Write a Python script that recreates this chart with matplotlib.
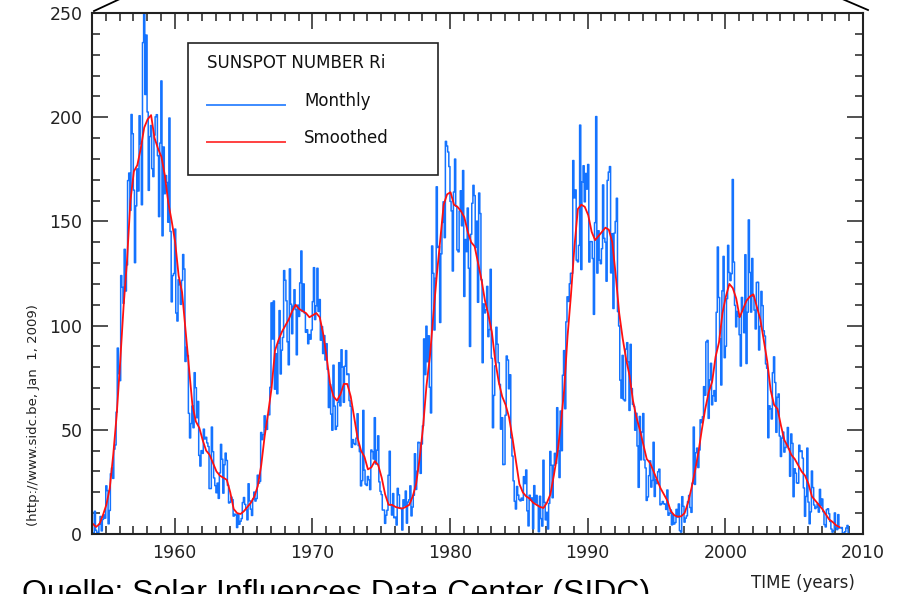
import numpy as np
import matplotlib
matplotlib.use('Agg')
import matplotlib.pyplot as plt
from matplotlib.lines import Line2D

# Monatliche Sonnenfleckenzahlen (Ri), eine Zeile pro Jahr, Jan..Dez
monthly_start = 1954
monthly = [
    [0.2, 0.5, 10.9, 1.8, 0.8, 0.2, 4.8, 8.4, 1.5, 7.0, 9.2, 7.6],            # 1954
    [23.1, 20.8, 4.9, 11.3, 28.9, 31.7, 26.7, 40.7, 42.7, 58.5, 89.2, 76.9],  # 1955
    [73.6, 124.0, 118.4, 110.7, 136.6, 116.6, 129.1, 169.6, 173.2, 155.3, 201.3, 192.1],
    [165.0, 130.2, 157.4, 175.2, 164.6, 200.7, 187.2, 158.0, 235.8, 253.8, 210.9, 239.4],
    [202.5, 164.9, 190.7, 196.0, 175.3, 171.5, 191.4, 200.2, 201.2, 181.5, 152.3, 187.6],
    [217.4, 143.1, 185.7, 163.3, 172.0, 168.7, 149.6, 199.6, 145.2, 111.4, 124.0, 125.0],
    [146.3, 106.0, 102.2, 122.0, 119.6, 110.2, 121.7, 134.1, 127.2, 82.8, 89.6, 85.6],    # 1960
    [57.9, 46.1, 53.0, 61.4, 51.0, 77.4, 70.2, 55.8, 63.6, 37.7, 32.6, 40.0],
    [38.7, 50.3, 45.6, 46.4, 43.7, 42.0, 21.8, 21.8, 51.3, 39.5, 26.9, 23.2],
    [19.8, 24.4, 17.1, 29.3, 43.0, 35.9, 19.6, 33.2, 38.8, 35.3, 23.4, 14.9],
    [15.3, 17.7, 16.5, 8.6, 9.5, 9.1, 3.1, 9.3, 4.7, 6.1, 7.4, 15.1],
    [17.5, 14.2, 11.7, 6.8, 24.1, 15.9, 11.9, 8.9, 16.8, 20.1, 15.8, 17.0],
    [28.2, 24.4, 25.3, 48.7, 45.3, 47.7, 56.7, 51.2, 50.2, 57.2, 57.2, 70.4],
    [110.9, 93.6, 111.8, 69.5, 86.5, 67.3, 91.5, 107.2, 76.8, 88.2, 94.3, 126.4],
    [121.8, 111.9, 92.2, 81.2, 127.2, 110.3, 96.1, 109.3, 117.2, 107.7, 86.0, 109.8],
    [104.4, 120.5, 135.8, 106.8, 120.0, 106.0, 96.8, 98.0, 91.3, 95.7, 93.5, 97.9],
    [111.5, 127.8, 102.9, 109.5, 127.5, 106.8, 112.5, 93.0, 99.5, 86.6, 95.2, 83.5],      # 1970
    [91.3, 79.0, 60.7, 71.8, 57.5, 49.8, 81.0, 61.4, 50.2, 51.7, 63.2, 82.2],
    [61.5, 88.4, 80.1, 63.2, 80.5, 88.0, 76.5, 76.8, 64.0, 61.3, 41.6, 45.3],
    [43.4, 42.9, 46.0, 57.7, 42.4, 39.5, 23.1, 25.6, 59.3, 30.7, 23.9, 23.3],
    [27.6, 26.0, 21.3, 40.3, 39.5, 36.0, 55.8, 33.6, 40.2, 47.1, 25.0, 20.5],
    [18.9, 11.5, 11.5, 5.1, 9.0, 11.4, 28.2, 39.7, 13.9, 9.1, 19.4, 7.8],
    [8.1, 4.3, 21.9, 18.8, 12.4, 12.2, 1.9, 16.4, 13.5, 20.6, 5.2, 15.3],
    [16.4, 23.1, 8.7, 12.9, 18.6, 38.5, 21.4, 30.1, 44.0, 43.8, 29.1, 43.2],
    [51.9, 93.6, 76.5, 99.7, 82.7, 95.1, 70.4, 58.1, 138.2, 125.1, 97.9, 122.7],
    [166.6, 137.5, 138.0, 101.5, 134.4, 149.5, 159.4, 142.2, 188.4, 186.2, 183.3, 176.3],
    [159.6, 155.0, 126.2, 164.1, 179.9, 157.3, 136.3, 135.4, 155.0, 164.7, 147.9, 174.4],  # 1980
    [114.0, 141.3, 135.5, 156.4, 127.5, 90.0, 143.8, 158.7, 167.3, 162.4, 137.5, 150.1],
    [111.2, 163.6, 153.8, 122.0, 82.2, 110.4, 106.1, 107.6, 118.8, 94.7, 98.1, 127.0],
    [84.3, 51.0, 66.5, 80.7, 99.2, 91.1, 82.2, 71.8, 50.3, 55.8, 33.3, 33.4],
    [57.0, 85.4, 83.5, 69.7, 76.4, 46.1, 37.4, 25.5, 15.7, 12.0, 22.8, 18.7],
    [16.5, 15.9, 17.2, 16.2, 27.5, 24.2, 30.7, 11.1, 3.9, 18.6, 16.2, 17.3],
    [2.5, 23.2, 15.1, 18.5, 13.7, 1.1, 18.1, 7.4, 3.8, 35.4, 15.2, 6.8],
    [10.4, 2.4, 14.7, 39.6, 33.0, 17.4, 33.0, 38.7, 33.9, 60.6, 39.9, 27.1],
    [59.0, 40.0, 76.2, 88.0, 60.1, 101.8, 113.8, 111.6, 120.1, 125.1, 125.1, 179.2],
    [161.3, 165.1, 131.4, 130.6, 138.5, 196.2, 126.9, 168.9, 176.7, 159.4, 173.0, 165.5],
    [177.3, 130.5, 140.3, 140.3, 132.2, 105.4, 149.4, 200.3, 125.2, 145.5, 131.4, 129.7],  # 1990
    [136.9, 167.5, 141.9, 140.0, 121.3, 169.7, 173.7, 176.3, 125.3, 144.1, 108.2, 144.4],
    [150.0, 161.1, 106.7, 99.8, 73.8, 65.2, 85.7, 64.5, 63.9, 88.7, 91.8, 82.6],
    [59.3, 91.0, 69.8, 62.2, 61.3, 49.8, 57.9, 42.2, 22.4, 56.4, 35.6, 48.9],
    [57.8, 35.5, 31.7, 16.1, 17.8, 28.0, 35.1, 22.5, 25.7, 44.0, 18.0, 26.2],
    [24.2, 29.9, 31.1, 14.0, 14.5, 15.6, 14.5, 14.3, 11.8, 21.1, 9.0, 10.0],
    [11.5, 4.4, 9.2, 4.8, 5.5, 11.8, 8.2, 14.4, 1.6, 0.9, 17.9, 13.3],
    [5.7, 7.6, 8.7, 15.5, 18.5, 12.7, 10.4, 24.4, 51.3, 23.8, 39.0, 41.2],
    [31.9, 40.3, 54.8, 53.4, 56.3, 70.7, 66.6, 92.2, 92.9, 55.5, 74.0, 81.9],
    [62.0, 66.3, 68.8, 63.7, 106.4, 137.7, 113.5, 93.7, 71.5, 116.7, 133.2, 84.6],
    [90.1, 112.9, 138.5, 125.5, 121.6, 124.9, 170.1, 130.5, 109.7, 99.4, 106.8, 104.4],   # 2000
    [95.6, 80.6, 113.5, 107.7, 96.6, 134.0, 81.8, 106.4, 150.7, 125.5, 106.5, 132.2],
    [114.1, 107.4, 98.4, 120.7, 120.8, 88.3, 99.6, 116.4, 109.6, 97.5, 95.0, 81.6],
    [79.5, 46.2, 61.5, 60.0, 55.2, 77.4, 85.0, 72.7, 48.8, 65.6, 67.2, 47.0],
    [37.2, 46.0, 48.9, 39.3, 41.5, 43.2, 51.1, 40.9, 27.7, 48.0, 43.5, 17.9],
    [31.3, 29.2, 24.5, 24.4, 42.6, 39.6, 39.9, 36.4, 22.1, 8.5, 18.0, 41.2],
    [15.3, 4.9, 10.6, 30.2, 22.3, 13.9, 12.2, 12.9, 14.4, 10.5, 21.4, 13.6],
    [16.8, 10.7, 4.5, 3.4, 11.7, 12.1, 9.7, 6.0, 2.4, 0.9, 1.7, 10.1],
    [3.4, 2.1, 9.3, 2.9, 2.9, 3.1, 0.5, 0.5, 1.1, 2.9, 4.1, 0.8],                        # 2008
]

# Geglaettete Werte (13 Monate), vierteljaehrlich: Jan, Apr, Jul, Okt
smoothed = [
    [5.0, 3.4, 4.8, 9.0],          # 1954
    [14.0, 22.0, 38.0, 57.0],
    [82.0, 109.0, 131.0, 160.0],
    [174.0, 177.0, 185.0, 195.0],
    [199.0, 201.0, 190.0, 185.0],
    [181.0, 172.0, 159.0, 150.0],
    [140.0, 124.0, 116.0, 98.0],   # 1960
    [80.0, 62.0, 54.0, 51.0],
    [45.0, 40.0, 38.0, 34.0],
    [30.0, 28.0, 27.0, 26.0],
    [20.0, 12.0, 10.0, 9.6],
    [11.0, 13.0, 15.0, 18.0],
    [23.0, 33.0, 47.0, 58.0],
    [70.0, 88.0, 93.0, 97.0],
    [100.0, 103.0, 107.0, 110.0],
    [108.0, 107.0, 106.0, 104.0],
    [105.0, 106.0, 104.0, 96.0],   # 1970
    [85.0, 72.0, 66.0, 64.0],
    [67.0, 72.0, 72.0, 66.0],
    [56.0, 46.0, 40.0, 37.0],
    [31.0, 32.0, 35.0, 33.0],
    [27.0, 19.0, 14.0, 14.0],
    [13.0, 12.5, 12.2, 13.0],
    [14.0, 18.0, 24.0, 36.0],
    [51.0, 71.0, 85.0, 105.0],
    [124.0, 141.0, 158.0, 163.0],
    [164.0, 158.0, 157.0, 155.0],  # 1980
    [152.0, 145.0, 140.0, 138.0],
    [130.0, 122.0, 112.0, 105.0],
    [97.0, 83.0, 73.0, 66.0],
    [62.0, 56.0, 46.0, 35.0],
    [24.0, 20.0, 18.0, 17.0],
    [15.0, 14.0, 13.0, 12.5],
    [15.0, 19.0, 28.0, 38.0],
    [52.0, 69.0, 95.0, 115.0],
    [138.0, 156.0, 158.0, 157.0],
    [153.0, 145.0, 141.0, 143.0],  # 1990
    [145.0, 147.0, 146.0, 140.0],
    [124.0, 106.0, 94.0, 84.0],
    [76.0, 64.0, 56.0, 50.0],
    [43.0, 36.0, 34.0, 30.0],
    [26.0, 22.0, 19.0, 16.0],
    [11.0, 9.0, 8.3, 8.5],
    [10.0, 15.0, 22.0, 30.0],
    [39.0, 50.0, 60.0, 68.0],
    [73.0, 85.0, 92.0, 106.0],
    [114.0, 120.0, 118.0, 113.0],  # 2000
    [104.0, 108.0, 112.0, 114.0],
    [115.0, 109.0, 103.0, 93.0],
    [83.0, 69.0, 62.0, 60.0],
    [52.0, 45.0, 42.0, 38.0],
    [36.0, 33.0, 30.0, 28.0],
    [24.0, 18.0, 16.0, 14.0],
    [12.0, 9.5, 7.0, 5.8],
    [4.2, 3.3],                    # 2008
]

x_ticks = [1960, 1970, 1980, 1990, 2000, 2010]
y_ticks = [0, 50, 100, 150, 200, 250]

# Zeitachse: Monatsmitte
t_month, r_month = [], []
for i, row in enumerate(monthly):
    for m, v in enumerate(row):
        t_month.append(monthly_start + i + (m + 0.5) / 12)
        r_month.append(v)

t_smooth, r_smooth = [], []
for i, row in enumerate(smoothed):
    for q, v in enumerate(row):
        t_smooth.append(monthly_start + i + (3 * q + 0.5) / 12)
        r_smooth.append(v)

fig = plt.figure(figsize=(8.97, 5.94), dpi=100)
ax = fig.add_axes([92 / 897, 60 / 594, 771 / 897, 521 / 594])

blue = '#1473ff'
red = '#ff1010'
ax.plot(t_month, r_month, color=blue, linewidth=1.1, drawstyle='steps-mid')
ax.plot(t_smooth, r_smooth, color=red, linewidth=1.3)

ax.set_xlim(1954.0, 2010.0)
ax.set_ylim(0, 250)
ax.set_xticks(x_ticks)
ax.set_yticks(y_ticks)
ax.set_xticks(np.arange(1955, 2010, 1), minor=True)
ax.set_yticks(np.arange(0, 251, 10), minor=True)

ax.tick_params(which='both', direction='in', top=True, right=True,
               color='#333333', width=1.2, labelsize=12.5, labelcolor='#222222')
ax.tick_params(which='major', length=11.5, pad=7)
ax.tick_params(which='minor', length=5.8)
for s in ax.spines.values():
    s.set_color('#222222')
    s.set_linewidth(1.5)

# Legende als Kasten wie im Original
ax.add_patch(plt.Rectangle((188 / 897, 419 / 594), 250 / 897, 132 / 594,
                           transform=fig.transFigure, fill=False,
                           edgecolor='#222222', linewidth=1.2, zorder=5))
fig.text(207 / 897, 1 - 63 / 594, 'SUNSPOT NUMBER Ri', fontsize=12,
         va='center', ha='left', color='#111111')
fig.add_artist(Line2D([207 / 897, 285 / 897], [1 - 105 / 594] * 2,
                      color='#3d8bff', linewidth=1.4))
fig.add_artist(Line2D([207 / 897, 285 / 897], [1 - 142 / 594] * 2,
                      color='#ff4040', linewidth=1.4))
fig.text(304 / 897, 1 - 101 / 594, 'Monthly', fontsize=12,
         va='center', ha='left', color='#111111')
fig.text(304 / 897, 1 - 138 / 594, 'Smoothed', fontsize=12,
         va='center', ha='left', color='#111111')

# Achsentitel
fig.text(33 / 897, 1 - 415 / 594, '(http://www.sidc.be, Jan  1, 2009)',
         rotation=90, fontsize=9.5, va='center', ha='center', color='#222222')
fig.text(855 / 897, 1 - 588 / 594, 'TIME (years)', fontsize=12,
         ha='right', va='baseline', color='#222222')

# Quellenangabe (unten abgeschnitten wie im Original)
fig.text(22 / 897, -8 / 594, 'Quelle: Solar Influences Data Center (SIDC)',
         fontsize=23, family='Liberation Sans', ha='left', va='baseline',
         color='black')

# schraege Linien oben (Rahmen der Folie)
fig.add_artist(Line2D([94 / 897, 122 / 897], [1 - 11 / 594, 1 + 2 / 594],
                      color='black', linewidth=1.3))
fig.add_artist(Line2D([840 / 897, 868 / 897], [1 + 2 / 594, 1 - 10 / 594],
                      color='black', linewidth=1.3))

fig.savefig('out.png', dpi=100)
